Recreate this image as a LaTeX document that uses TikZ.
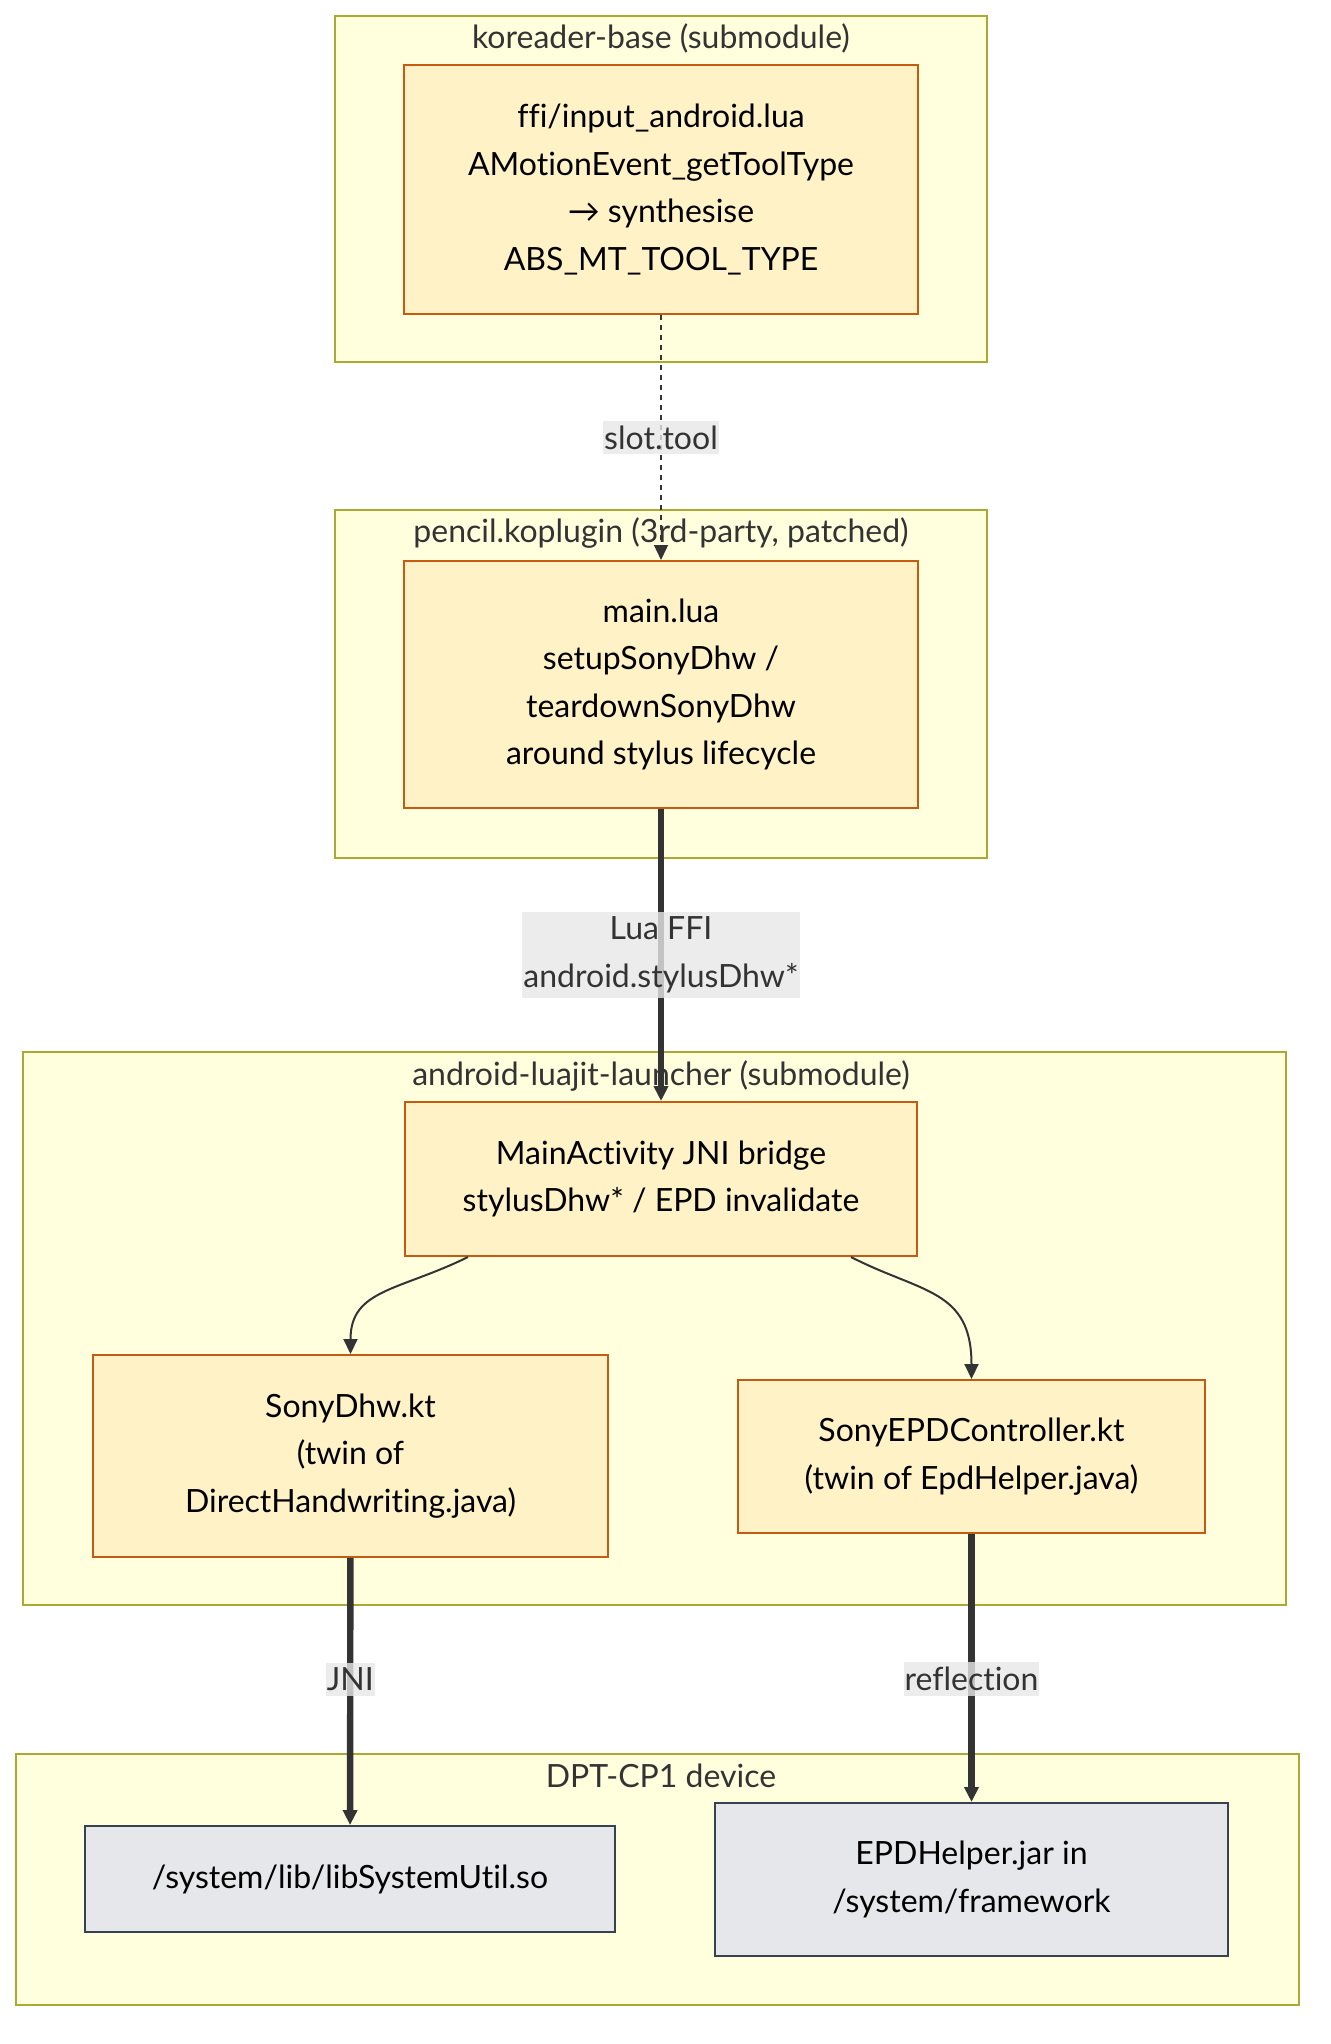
\documentclass[tikz,border=0pt]{standalone}
\usepackage{fontspec}
\setmainfont{Lato}[Ligatures=NoCommon]
\usetikzlibrary{arrows.meta, positioning}
\definecolor{clusterfill}{HTML}{FFFFDE}
\definecolor{clusterline}{HTML}{AAAA33}
\definecolor{boxfill}{HTML}{FFF2C6}
\definecolor{boxline}{HTML}{C55A11}
\definecolor{devfill}{HTML}{E5E7EB}
\definecolor{devline}{HTML}{374151}
\definecolor{ink}{HTML}{333333}
\definecolor{labelbg}{HTML}{E8E8E8}

\tikzset{
  cluster/.style={draw=clusterline, fill=clusterfill, line width=1pt},
  clustertitle/.style={text=ink, font=\fontsize{16pt}{24pt}\selectfont},
  srcbox/.style={draw=boxline, fill=boxfill, line width=1pt, align=center, inner sep=0pt, font=\fontsize{16pt}{23.8pt}\selectfont},
  devbox/.style={draw=devline, fill=devfill, line width=1pt, align=center, inner sep=0pt, font=\fontsize{16pt}{23.8pt}\selectfont},
  edgelabel/.style={fill=labelbg, fill opacity=0.8, text opacity=1, text=ink, align=center, inner xsep=0.5pt, inner ysep=2.5pt, font=\fontsize{16pt}{23.8pt}\selectfont},
  callthin/.style={draw=ink, line width=1pt, -{Triangle[length=7.5pt, width=7pt]}},
  callthick/.style={draw=ink, line width=3.2pt, -{Triangle[length=7.5pt, width=7pt]}},
  calldotted/.style={draw=ink, line width=0.7pt, dash pattern=on 2.5pt off 2.5pt, -{Triangle[length=7.5pt, width=7pt]}},
}

\begin{document}
\begin{tikzpicture}[x=0.5pt, y=-0.5pt]
\useasboundingbox[fill=white] (0,0) rectangle (1330,2044);
% —— subgraph frames ——
\draw[cluster] (335,16) rectangle (987,362);
\node[clustertitle] (t1) at (661,38){koreader-base (submodule)};
\draw[cluster] (335,510) rectangle (987,858);
\node[clustertitle] (t2) at (661,533){pencil.koplugin (3rd-party, patched)};
\draw[cluster] (23,1052) rectangle (1286,1605);
\node[clustertitle] (t3) at (661,1076){android-luajit-launcher (submodule)};
\draw[cluster] (16,1754) rectangle (1299,2005);
\node[clustertitle] (t4) at (661,1776){DPT-CP1 device};
% —— source boxes ——
\node[srcbox, minimum width=257pt, minimum height=124.5pt] (input) at (661,189.5){ffi/input\_android.lua\\AMotionEvent\_getToolType\\→ synthesise\\ABS\_MT\_TOOL\_TYPE};
\node[srcbox, minimum width=257pt, minimum height=123.5pt] (pencil) at (661,684.5){main.lua\\setupSonyDhw /\\teardownSonyDhw\\around stylus lifecycle};
\node[srcbox, minimum width=256pt, minimum height=77pt] (bridge) at (661,1179){MainActivity JNI bridge\\stylusDhw* / EPD invalidate};
\node[srcbox, minimum width=257.5pt, minimum height=101pt] (sonydhw) at (350.5,1456){SonyDhw.kt\\(twin of\\DirectHandwriting.java)};
\node[srcbox, minimum width=233.5pt, minimum height=76.5pt] (sonyepd) at (971.5,1456.5){SonyEPDController.kt\\(twin of EpdHelper.java)};
% —— device boxes ——
\node[devbox, minimum width=265pt, minimum height=53pt] (libutil) at (350,1879){/system/lib/libSystemUtil.so};
\node[devbox, minimum width=256.5pt, minimum height=76.5pt] (epdjar) at (971.5,1879.5){EPDHelper.jar in\\/system/framework};
% —— connectors ——
\draw[calldotted] (input) -- node[edgelabel]{slot.tool} (pencil);
\draw[callthick] (pencil) -- node[edgelabel]{Lua FFI\\android.stylusDhw*} (bridge);
\draw[callthin] ([xshift=32pt]bridge.south west) .. controls +(-34.5pt,-17pt) and +(0,32.5pt) .. (sonydhw.north);
\draw[callthin] ([xshift=-33.5pt]bridge.south east) .. controls +(35pt,-18pt) and +(0,45pt) .. (sonyepd.north);
\draw[callthick] (sonydhw) -- node[edgelabel, pos=0.454]{JNI} (libutil);
\draw[callthick] (sonyepd) -- node[edgelabel, pos=0.54]{reflection} (epdjar);
\end{tikzpicture}
\end{document}
